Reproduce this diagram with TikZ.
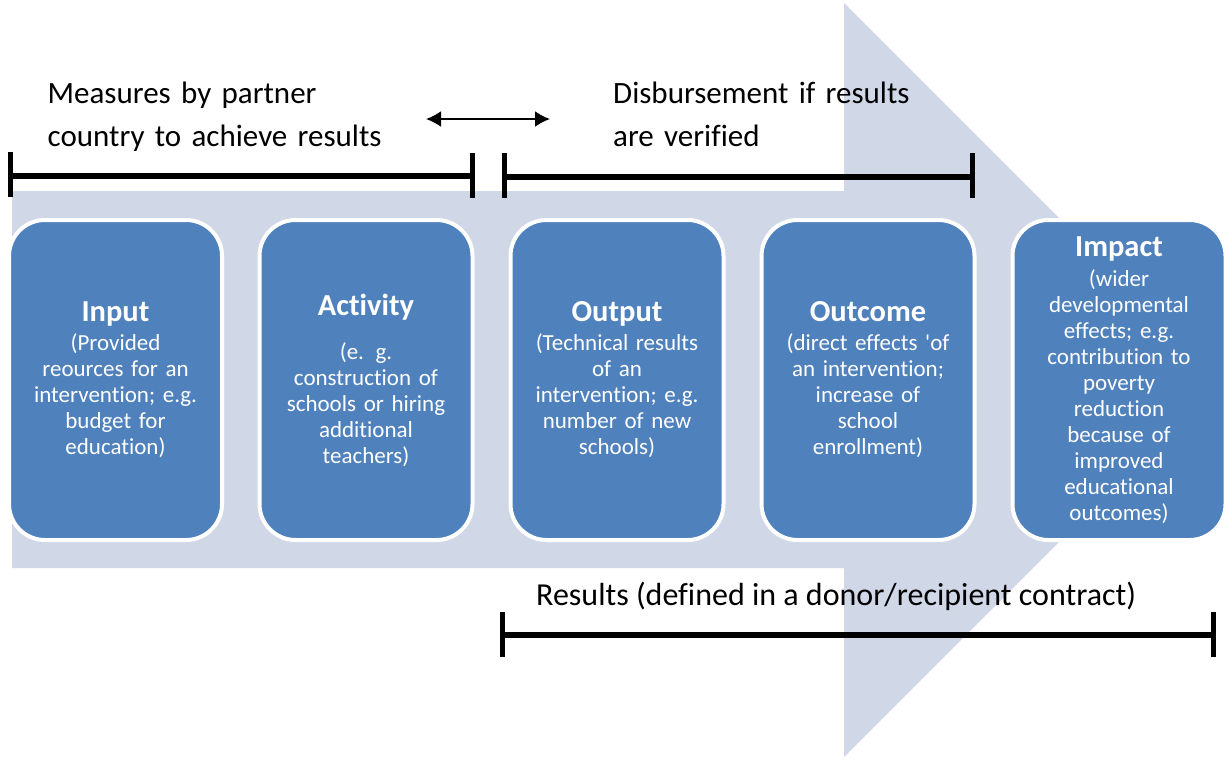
\documentclass[tikz,border=0pt]{standalone}
\usepackage{fontspec}
\setmainfont[Ligatures={NoCommon}]{Carlito}
\usetikzlibrary{arrows.meta}
\definecolor{boxblue}{HTML}{4F81BD}
\definecolor{arrowfill}{HTML}{D0D8E8}
\newcommand\boxtitle[1]{{\fontsize{30.5}{30.5}\selectfont\bfseries #1}}
\tikzset{
  stagebox/.style={draw=white, line width=4pt, fill=boxblue, rounded corners=36pt,
    minimum width=213pt, minimum height=320pt, text width=205pt, align=center,
    text=white, inner sep=0pt, font=\fontsize{23}{26}\selectfont},
  lbl/.style={font=\fontsize{31}{43}\selectfont, inner sep=0pt, align=left},
  barline/.style={line width=5.5pt, black},
  tickline/.style={line width=5pt, black},
  dblarrow/.style={line width=2pt, {Latex[length=15pt,width=16pt]}-{Latex[length=15pt,width=16pt]}}
}
\begin{document}
\begin{tikzpicture}[x=1pt,y=-1pt]
\useasboundingbox (0,0) rectangle (1224,760);
\clip (0,0) rectangle (1224,760);
% big background arrow
\fill[arrowfill] (12,191) -- (844,191) -- (844,3) -- (1221,380) -- (844,757) -- (844,568) -- (12,568) -- cycle;
% stage boxes
\node[stagebox] (input) at (115.5,380) {\boxtitle{Input}\\[3pt](Provided\\reources for an\\intervention; e.g.\\budget for\\education)};
\node[stagebox] (activity) at (366,380) {\boxtitle{Activity}\\[18pt](e. g.\\construction of\\schools or hiring\\additional\\teachers)};
\node[stagebox] (output) at (617,380) {\boxtitle{Output}\\[3pt](Technical results\\of an\\intervention; e.g.\\number of new\\schools)};
\node[stagebox] (outcome) at (868,380) {\boxtitle{Outcome}\\[3pt](direct effects \textquotesingle of\\an intervention;\\increase of\\school\\enrollment)};
\node[stagebox] (impact) at (1119,380) {\boxtitle{Impact}\\[4pt](wider\\developmental\\effects; e.g.\\contribution to\\poverty\\reduction\\because of\\improved\\educational\\outcomes)};
% labels
\node[lbl, anchor=base west, text width=420pt] (measures) at (47.5,103) {Measures by partner\\country to achieve results};
\node[lbl, anchor=base west, text width=400pt] (disb) at (613,103) {Disbursement if results\\are verified};
\node[lbl, anchor=base west, font=\fontsize{32}{43}\selectfont] (results) at (536,605) {Results (defined in a donor/recipient contract)};
% double arrow
\coordinate (al) at (426,119);
\coordinate (ar) at (550,119);
\draw[dblarrow] (al) -- (ar);
% bar 1
\coordinate (b1l) at (10,176);
\coordinate (b1r) at (472,176);
\draw[barline] (b1l) -- (b1r);
\draw[tickline] (10,152) -- (10,197);
\draw[tickline] (472,153) -- (472,198);
% bar 2
\coordinate (b2l) at (504,177);
\coordinate (b2r) at (972,177);
\draw[barline] (b2l) -- (b2r);
\draw[tickline] (504,153) -- (504,198);
\draw[tickline] (972,153) -- (972,198);
% bar 3
\coordinate (b3l) at (502,635);
\coordinate (b3r) at (1213,635);
\draw[barline] (b3l) -- (b3r);
\draw[tickline] (502,612) -- (502,657);
\draw[tickline] (1213,612) -- (1213,657);
\end{tikzpicture}
\end{document}
